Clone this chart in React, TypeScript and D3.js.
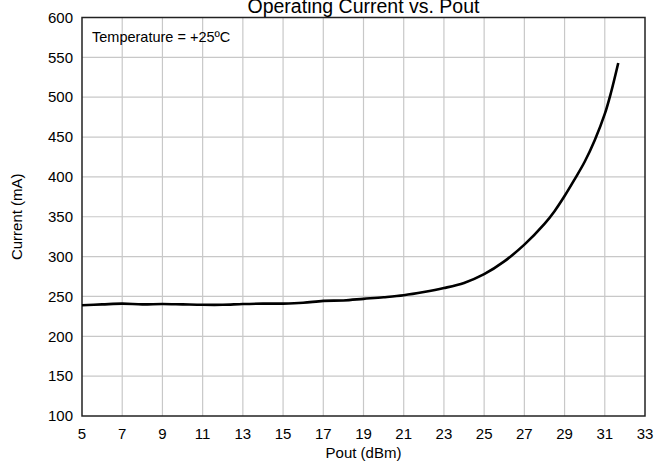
import React from 'react';
import * as d3 from 'd3';

// Pout (dBm) and operating current (mA)
const poutValues = [5, 6, 7, 8, 9, 10, 11, 12, 13, 14, 15, 16, 17, 18, 19, 20, 21, 22, 23, 24, 25, 26, 27, 28, 28.5, 29, 29.5, 30, 30.5, 31, 31.3, 31.67];
const currentValues = [239, 240, 241, 240, 240.5, 240, 239.5, 239.5, 240.5, 241, 241, 242, 244.5, 245, 247, 249, 251.5, 255.5, 260.5, 267, 278, 294, 315, 341, 357, 376, 397, 419, 446, 479, 505, 543];

const xTicks = [5, 7, 9, 11, 13, 15, 17, 19, 21, 23, 25, 27, 29, 31, 33];
const yTicks = [100, 150, 200, 250, 300, 350, 400, 450, 500, 550, 600];

const title = 'Operating Current vs. Pout';
const xLabel = 'Pout (dBm)';
const yLabel = 'Current (mA)';
const note = 'Temperature = +25ºC';

const width = 657;
const height = 466;
const margin = { top: 17.5, right: 12, bottom: 50, left: 82 };
const font = 'Arial, "Liberation Sans", sans-serif';

const App: React.FC = () => {
    const x = d3
        .scaleLinear()
        .domain([5, 33])
        .range([margin.left, width - margin.right]);
    const y = d3
        .scaleLinear()
        .domain([100, 600])
        .range([height - margin.bottom, margin.top]);

    const points: [number, number][] = poutValues.map((p, i) => [p, currentValues[i]]);
    const line = d3
        .line<[number, number]>()
        .x((d) => x(d[0]))
        .y((d) => y(d[1]))
        .curve(d3.curveCatmullRom.alpha(0.5));

    const plotLeft = x(5);
    const plotRight = x(33);
    const plotTop = y(600);
    const plotBottom = y(100);
    const midX = (plotLeft + plotRight) / 2;

    return (
        <svg
            width={width}
            height={height}
            style={{ position: 'absolute', left: 0, top: 0, background: '#fff' }}
            fontFamily={font}
        >
            {/* grid */}
            {xTicks.slice(1, -1).map((t) => (
                <line key={'gx' + t} x1={x(t)} x2={x(t)} y1={plotTop} y2={plotBottom} stroke="#c8c8c8" strokeWidth={1.2} />
            ))}
            {yTicks.slice(1, -1).map((t) => (
                <line key={'gy' + t} x1={plotLeft} x2={plotRight} y1={y(t)} y2={y(t)} stroke="#c8c8c8" strokeWidth={1.2} />
            ))}

            {/* plot border */}
            <rect
                x={plotLeft}
                y={plotTop}
                width={plotRight - plotLeft}
                height={plotBottom - plotTop}
                fill="none"
                stroke="#222"
                strokeWidth={1.5}
            />

            {/* curve */}
            <path d={line(points) ?? ''} fill="none" stroke="#000" strokeWidth={2.6} strokeLinejoin="round" />

            {/* tick labels */}
            {yTicks.map((t) => (
                <text key={'ty' + t} x={plotLeft - 9} y={y(t)} dy="0.35em" textAnchor="end" fontSize={15} fill="#000">
                    {t}
                </text>
            ))}
            {xTicks.map((t) => (
                <text key={'tx' + t} x={x(t)} y={plotBottom + 18} dy="0.35em" textAnchor="middle" fontSize={15} fill="#000">
                    {t}
                </text>
            ))}

            {/* axis titles */}
            <text x={midX} y={plotBottom + 36.5} dy="0.35em" textAnchor="middle" fontSize={15} fill="#000">
                {xLabel}
            </text>
            <text
                transform={`translate(17,${(plotTop + plotBottom) / 2}) rotate(-90)`}
                dy="0.35em"
                textAnchor="middle"
                fontSize={15}
                fill="#000"
            >
                {yLabel}
            </text>

            {/* title, clipped at the top like the source */}
            <text x={midX} y={12.5} textAnchor="middle" fontSize={19.5} fill="#000">
                {title}
            </text>

            <text x={plotLeft + 10} y={36.5} dy="0.35em" fontSize={14.5} fill="#000">
                {note}
            </text>
        </svg>
    );
};

export default App;
